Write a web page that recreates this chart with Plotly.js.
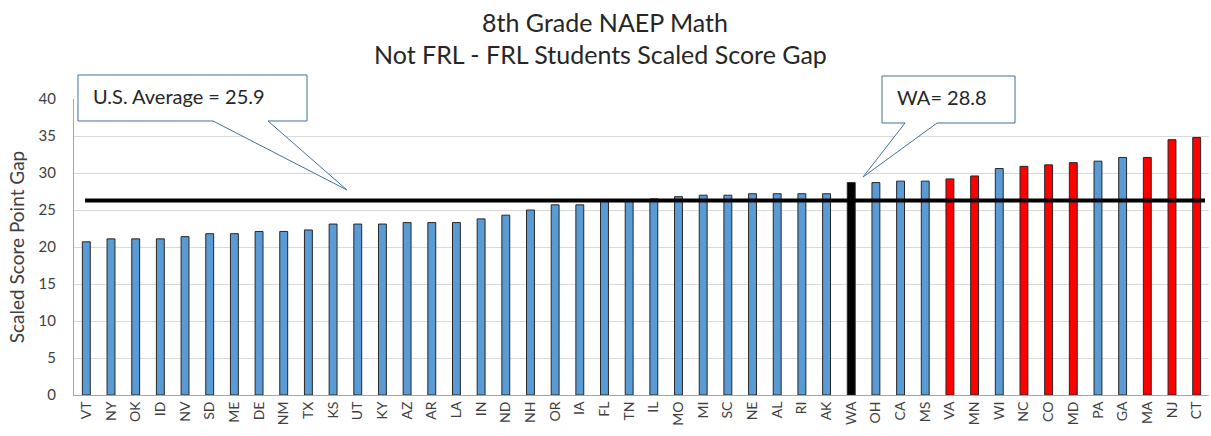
<!DOCTYPE html>
<html>
<head>
<meta charset="utf-8">
<script src="https://cdn.plot.ly/plotly-3.0.1.min.js"></script>
<style>
  html, body { margin: 0; padding: 0; background: #fff; }
  #chart { width: 1211px; height: 436px; }
</style>
</head>
<body>
<div id="chart"></div>
<script>
// states, sorted by gap
var states = ["VT","NY","OK","ID","NV","SD","ME","DE","NM","TX","KS","UT","KY","AZ","AR","LA",
  "IN","ND","NH","OR","IA","FL","TN","IL","MO","MI","SC","NE","AL","RI","AK","WA","OH","CA",
  "MS","VA","MN","WI","NC","CO","MD","PA","GA","MA","NJ","CT"];
var gaps = [20.7, 21.1, 21.1, 21.1, 21.4, 21.8, 21.8, 22.1, 22.1, 22.3, 23.1, 23.1, 23.1, 23.3, 23.3, 23.3,
  23.8, 24.3, 25.0, 25.7, 25.7, 26.3, 26.4, 26.5, 26.8, 27.0, 27.0, 27.2, 27.2, 27.2, 27.2, 28.7, 28.7, 28.9,
  28.9, 29.2, 29.6, 30.6, 30.9, 31.1, 31.4, 31.6, 32.1, 32.1, 34.5, 34.8];
// group of each bar: b = blue, r = red, w = Washington
var groups = ["b","b","b","b","b","b","b","b","b","b","b","b","b","b","b","b",
  "b","b","b","b","b","b","b","b","b","b","b","b","b","b","b","w","b","b",
  "b","r","r","b","r","r","r","b","b","r","r","r"];
var usAverageLine = 26.3;
var usAverageText = "U.S. Average = 25.9";
var waText = "WA= 28.8";

var groupColor = {b: "#5b9bd5", r: "#ff0000", w: "#000000"};

var L = 74, R = 2, T = 99, B = 41, W = 1211, H = 436;
function fx(x) { return (x - L) / (W - L - R); }
function fy(y) { return (H - B - y) / (H - T - B); }
function px(x, y) { return fx(x).toFixed(4) + "," + fy(y).toFixed(4); }
function callout(x0, y0, x1, y1, pa, pb, tip) {
  return "M" + px(x0, y0) + " L" + px(x1, y0) + " L" + px(x1, y1) + " L" + px(pb, y1) +
    " L" + px(tip[0], tip[1]) + " L" + px(pa, y1) + " L" + px(x0, y1) + " Z";
}

var bars = {
  x: states,
  y: gaps,
  type: "bar",
  width: 0.32,
  marker: {
    color: groups.map(function (g) { return groupColor[g]; }),
    line: {color: "#262626", width: 1}
  },
  hoverinfo: "x+y"
};

var layout = {
  width: W, height: H,
  margin: {l: L, r: R, t: T, b: B},
  paper_bgcolor: "#fff",
  plot_bgcolor: "#fff",
  font: {family: "Lato, 'Open Sans', sans-serif", color: "#404040"},
  showlegend: false,
  xaxis: {
    type: "category",
    tickangle: -90,
    tickfont: {size: 14, color: "#404040"},
    showgrid: false,
    showline: true,
    linecolor: "#a6a6a6",
    linewidth: 1,
    ticks: "",
    range: [-0.5, states.length - 0.5]
  },
  yaxis: {
    range: [0, 40],
    dtick: 5,
    tickfont: {size: 15, color: "#404040"},
    ticklabelstandoff: 14,
    gridcolor: "#d9d9d9",
    gridwidth: 1,
    showline: true,
    linecolor: "#a6a6a6",
    ticks: "",
    zeroline: false,
    title: {text: "Scaled Score Point Gap", font: {size: 19, color: "#404040"}, standoff: 8}
  },
  shapes: [
    {type: "line", xref: "paper", yref: "y", x0: fx(85), x1: fx(1205),
     y0: usAverageLine, y1: usAverageLine, line: {color: "#000", width: 4}},
    {type: "path", xref: "paper", yref: "paper",
     path: callout(78, 75, 307, 121, 213, 268, [347, 190]),
     fillcolor: "#fff", line: {color: "#41719c", width: 1}},
    {type: "path", xref: "paper", yref: "paper",
     path: callout(882, 76, 1015, 123, 905, 937, [863, 177]),
     fillcolor: "#fff", line: {color: "#41719c", width: 1}}
  ],
  annotations: [
    {text: "8th Grade NAEP Math", xref: "paper", yref: "paper", showarrow: false,
     x: fx(605), y: fy(22), xanchor: "center", yanchor: "middle",
     font: {size: 25, color: "#262626"}},
    {text: "Not FRL - FRL Students Scaled Score Gap", xref: "paper", yref: "paper", showarrow: false,
     x: fx(600), y: fy(54), xanchor: "center", yanchor: "middle",
     font: {size: 25, color: "#262626"}},
    {text: usAverageText, xref: "paper", yref: "paper", showarrow: false,
     x: fx(91), y: fy(96), xanchor: "left", yanchor: "middle",
     font: {size: 20, color: "#262626"}},
    {text: waText, xref: "paper", yref: "paper", showarrow: false,
     x: fx(895), y: fy(97), xanchor: "left", yanchor: "middle",
     font: {size: 20, color: "#262626"}}
  ]
};

Plotly.newPlot("chart", [bars], layout, {displayModeBar: false, staticPlot: true});
</script>
</body>
</html>
